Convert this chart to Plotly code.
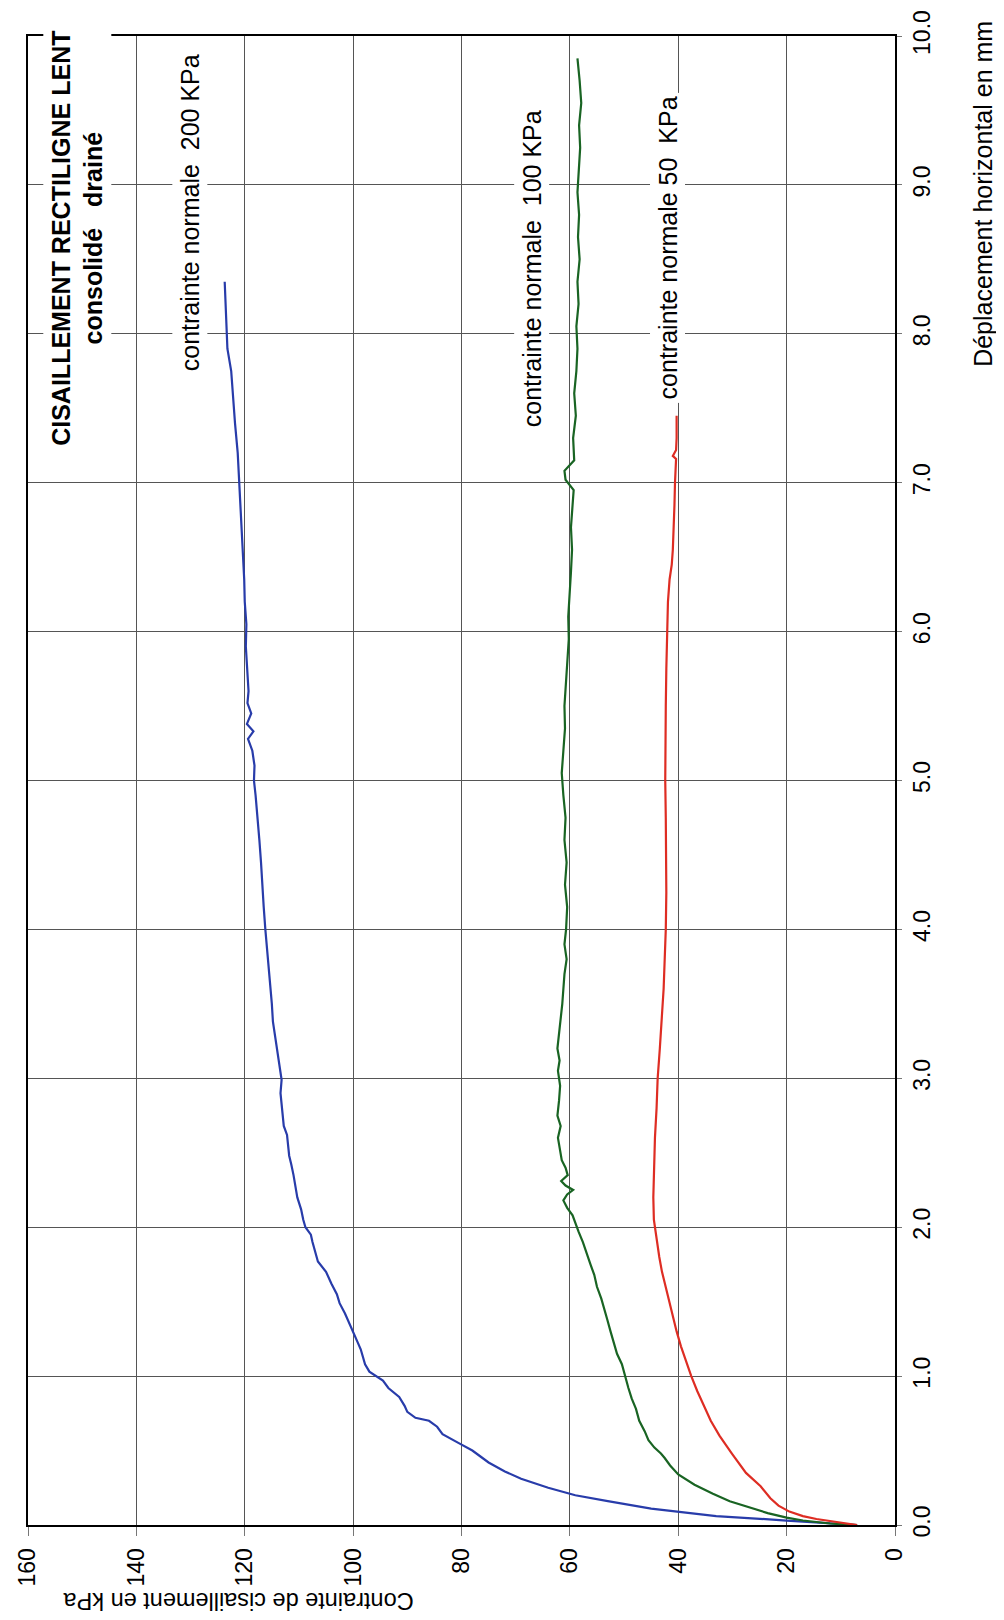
import plotly.graph_objects as go

# shear test curves: horizontal displacement (mm) vs shear stress (kPa)
disp_200 = [0.00, 0.01, 0.03, 0.06, 0.11, 0.16, 0.20, 0.25, 0.31, 0.36, 0.42, 0.46, 0.50, 0.55, 0.58,
            0.61, 0.66, 0.70, 0.72, 0.76, 0.80, 0.86, 0.92, 0.97, 1.03, 1.08, 1.13, 1.18, 1.23, 1.28,
            1.35, 1.42, 1.49, 1.55, 1.62, 1.70, 1.77, 1.83, 1.90, 1.95, 2.00, 2.05, 2.12, 2.20, 2.28,
            2.35, 2.42, 2.48, 2.55, 2.62, 2.68, 2.75, 2.82, 2.90, 2.99, 3.08, 3.18, 3.28, 3.38, 3.50,
            3.62, 3.75, 3.88, 4.00, 4.15, 4.30, 4.45, 4.60, 4.75, 4.90, 5.00, 5.10, 5.20, 5.28, 5.33,
            5.38, 5.45, 5.52, 5.60, 5.75, 5.90, 6.05, 6.20, 6.35, 6.50, 6.70, 6.90, 7.05, 7.20, 7.40,
            7.60, 7.75, 7.90, 8.05, 8.20, 8.35]
tau_200 = [7, 12, 20, 33, 45, 53, 59, 64, 69, 72, 75, 76.5, 78, 80.5, 82,
           83.5, 84.5, 86, 88.5, 90, 90.5, 91.5, 93.5, 94.5, 97, 97.8, 98.2, 98.6, 99.2, 99.8,
           100.6, 101.5, 102.5, 103, 104, 105, 106.5, 107, 107.5, 107.8, 108.8, 109.2, 109.6, 110.3, 110.6,
           111, 111.4, 111.8, 112, 112.2, 112.8, 113, 113.2, 113.4, 113.2, 113.6, 114, 114.4, 114.8, 115,
           115.3, 115.6, 116, 116.2, 116.5, 116.7, 117, 117.3, 117.6, 118, 118.3, 118.2, 118.6, 119.4, 118.4,
           119.6, 118.8, 119.5, 119.3, 119.6, 119.8, 119.7, 120, 120.1, 120.3, 120.6, 120.8, 121, 121.3, 121.8,
           122.2, 122.5, 123.2, 123.4, 123.6, 123.7]

disp_100 = [0.00, 0.01, 0.03, 0.05, 0.08, 0.12, 0.16, 0.21, 0.27, 0.34, 0.40, 0.45, 0.48, 0.52, 0.57,
            0.63, 0.70, 0.78, 0.85, 0.92, 1.00, 1.08, 1.15, 1.22, 1.30, 1.38, 1.45, 1.52, 1.60, 1.68,
            1.75, 1.82, 1.90, 1.97, 2.03, 2.08, 2.13, 2.18, 2.22, 2.25, 2.28, 2.31, 2.35, 2.40, 2.45,
            2.52, 2.60, 2.68, 2.75, 2.85, 2.95, 3.05, 3.12, 3.20, 3.30, 3.40, 3.50, 3.60, 3.70, 3.80,
            3.90, 4.00, 4.15, 4.30, 4.45, 4.60, 4.75, 4.90, 5.05, 5.20, 5.35, 5.50, 5.65, 5.80, 5.95,
            6.10, 6.25, 6.40, 6.55, 6.70, 6.85, 6.95, 7.02, 7.08, 7.15, 7.30, 7.45, 7.60, 7.75, 7.90,
            8.05, 8.20, 8.35, 8.50, 8.65, 8.80, 8.95, 9.10, 9.25, 9.40, 9.55, 9.70, 9.85]
tau_100 = [7, 12, 17, 20, 23.5, 27, 30.5, 33.6, 37, 40, 41.5, 42.5, 43.2, 44.4, 45.5,
           46.2, 47.2, 47.8, 48.6, 49.2, 49.8, 50.4, 51.3, 51.8, 52.5, 53.1, 53.6, 54.2, 55, 55.5,
           56.2, 56.8, 57.6, 58.4, 59, 59.5, 60.5, 61.2, 60.5, 59.4, 60.8, 61.6, 60.4, 60.8, 61.5,
           61.8, 62.2, 61.7, 62.3, 62, 61.8, 62.2, 61.9, 62.3, 62, 61.6, 61.4, 61.2, 61, 60.6,
           61, 60.7, 60.5, 60.9, 60.6, 61, 60.8, 61.2, 61.5, 61.2, 60.9, 61, 60.7, 60.5, 60.2,
           60.3, 60, 59.8, 59.6, 59.8, 59.5, 59.3, 60.8, 61, 59.2, 59.4, 58.9, 59.2, 58.8, 58.6,
           58.8, 58.4, 58.6, 58.2, 58.5, 58.3, 58.6, 58.4, 58.1, 58.3, 57.9, 58.2, 58.6]

disp_50 = [0.00, 0.02, 0.04, 0.06, 0.09, 0.13, 0.18, 0.26, 0.35, 0.48, 0.60, 0.70, 0.80, 0.90, 1.00,
           1.10, 1.20, 1.30, 1.40, 1.50, 1.60, 1.70, 1.80, 1.90, 1.97, 2.05, 2.20, 2.40, 2.60, 2.80, 3.00,
           3.20, 3.40, 3.60, 3.80, 4.00, 4.25, 4.50, 4.75, 5.00, 5.25, 5.50, 5.75, 6.00, 6.20, 6.35,
           6.45, 6.55, 6.70, 6.85, 7.00, 7.10, 7.16, 7.18, 7.22, 7.30, 7.45]
tau_50 = [7, 11, 14.5, 17, 19.5, 21.5, 23, 24.8, 27.5, 30.1, 32.4, 34, 35.3, 36.5, 37.6,
          38.6, 39.5, 40.3, 41, 41.6, 42.3, 43, 43.5, 43.9, 44.3, 44.5, 44.6, 44.5, 44.3, 44, 43.8,
          43.4, 43, 42.7, 42.5, 42.3, 42.2, 42.2, 42.3, 42.4, 42.4, 42.3, 42.2, 42.1, 41.9, 41.6,
          41.2, 41, 40.8, 40.7, 40.6, 40.5, 40.4, 41.0, 40.4, 40.3, 40.3]

stress_ticks = [0, 20, 40, 60, 80, 100, 120, 140, 160]
disp_ticks = [0, 1, 2, 3, 4, 5, 6, 7, 8, 9, 10]

FONT = "Liberation Sans, Arial, sans-serif"

fig = go.Figure()
for d, t, col in [(disp_200, tau_200, "rgb(40,60,170)"),
                  (disp_100, tau_100, "rgb(25,100,35)"),
                  (disp_50, tau_50, "rgb(222,45,35)")]:
    fig.add_trace(go.Scatter(x=t, y=d, mode="lines", line=dict(color=col, width=2.2)))

fig.update_xaxes(range=[160, 0], tickvals=stress_ticks, tickangle=-90, automargin=False,
                 ticklabeloverflow="allow", ticklabelstandoff=3,
                 showgrid=True, gridcolor="#555", gridwidth=1, zeroline=False,
                 showline=True, linecolor="black", linewidth=2, mirror=True,
                 ticks="outside", ticklen=9, tickcolor="#777",
                 tickfont=dict(family=FONT, size=23, color="black"))
fig.update_yaxes(range=[0, 10], tickvals=disp_ticks, tickformat=".1f", side="right", tickangle=-90,
                 automargin=False, ticklabeloverflow="allow",
                 showgrid=True, gridcolor="#555", gridwidth=1, zeroline=False,
                 showline=True, linecolor="black", linewidth=2, mirror=True,
                 ticks="outside", ticklen=5, tickcolor="#777",
                 tickfont=dict(family=FONT, size=23, color="black"))

inner = dict(textangle=-90, showarrow=False, bgcolor="white", borderpad=3,
             xanchor="center", yanchor="middle",
             font=dict(family=FONT, size=25, color="black"))
fig.add_annotation(x=150.9, y=8.64, align="center",
                   text="<b>CISAILLEMENT RECTILIGNE LENT</b><br><b>consolidé&nbsp;&nbsp;&nbsp;drainé</b>",
                   **inner)
fig.add_annotation(x=130.1, y=8.81, text="contrainte normale&nbsp;&nbsp;200 KPa", **inner)
fig.add_annotation(x=67.0, y=8.44, text="contrainte normale&nbsp;&nbsp;100 KPa", **inner)
fig.add_annotation(x=41.9, y=8.58, text="contrainte normale 50&nbsp;&nbsp;KPa", **inner)

fig.add_annotation(xref="paper", yref="paper", x=0.242, y=-0.051, textangle=180, showarrow=False,
                   xanchor="center", yanchor="middle",
                   text="Contrainte de cisaillement en kPa",
                   font=dict(family=FONT, size=23.5, color="black"))
fig.add_annotation(xref="paper", yref="paper", x=1.1015, y=0.894, textangle=-90, showarrow=False,
                   xanchor="center", yanchor="middle",
                   text="Déplacement horizontal en mm",
                   font=dict(family=FONT, size=25, color="black"))

# page body has an 8px default margin, so the figure is 8px smaller each way
fig.update_layout(width=996, height=1612, margin=dict(l=20, r=109, t=28, b=95),
                  plot_bgcolor="white", paper_bgcolor="white", showlegend=False)

fig.write_html("out.html")
